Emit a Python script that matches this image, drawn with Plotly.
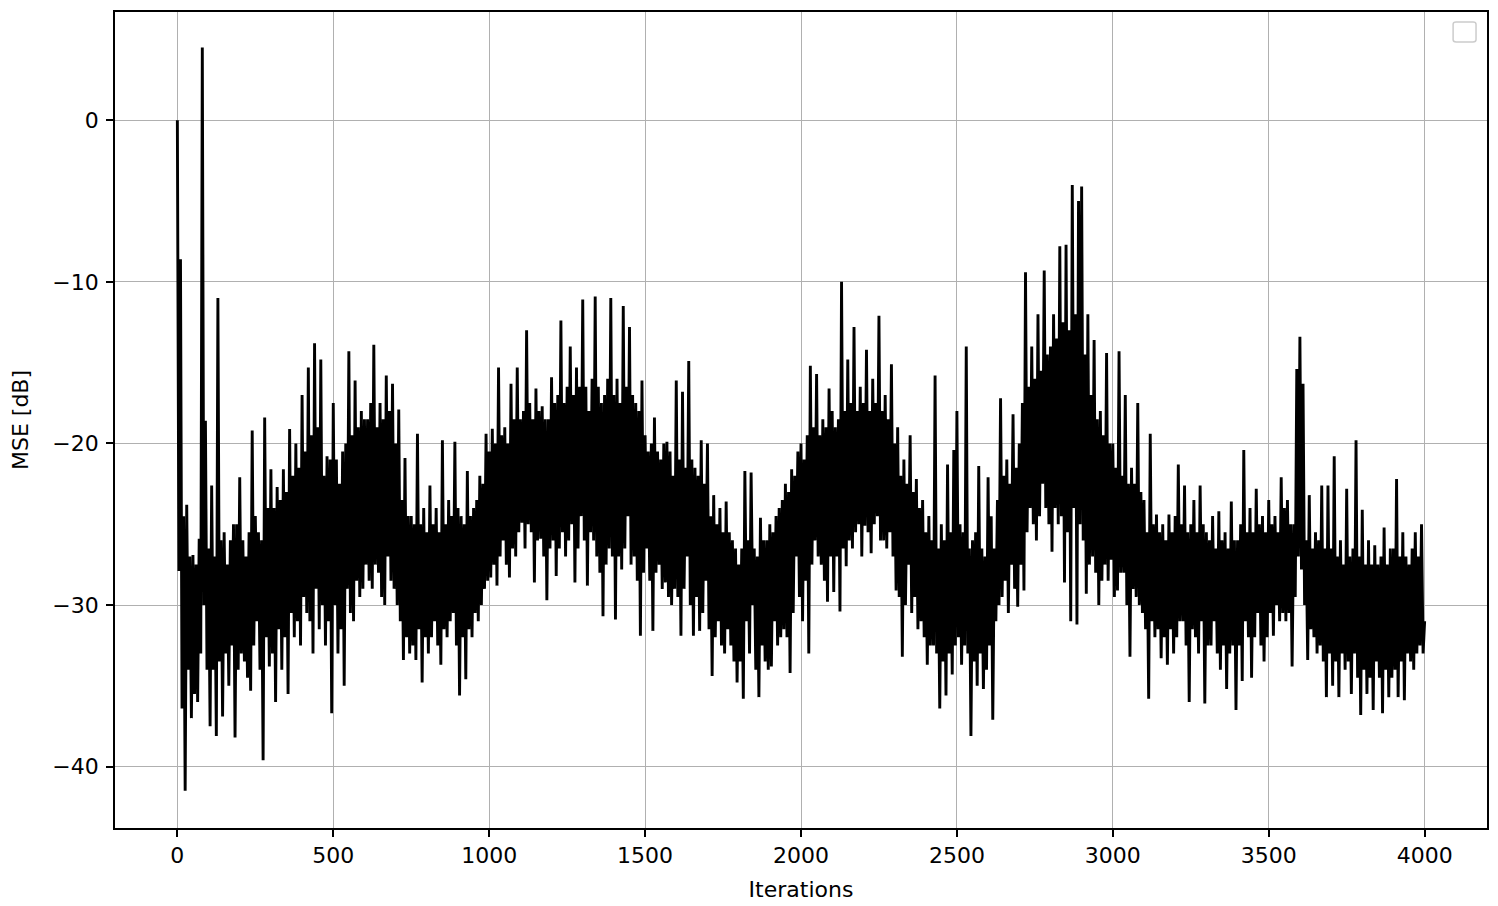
import plotly.graph_objects as go

# MSE learning curve, values every 5 iterations
step = 5
mse_db = [
    # 0 - 395
    0.0, -27.9, -8.6, -36.4, -24.5, -41.5, -23.8, -34.0, -27.0, -37.0,
    -26.9, -35.5, -27.5, -36.0, -25.9, -33.0, 4.5, -30.0, -18.6, -34.0,
    -26.5, -37.5, -22.6, -34.0, -27.0, -38.1, -11.0, -33.5, -26.0, -36.9,
    -25.5, -33.0, -27.5, -35.0, -26.0, -32.5, -25.0, -38.2, -25.0, -34.0,
    -22.1, -33.0, -26.0, -33.5, -27.0, -34.5, -25.5, -35.3, -19.2, -32.5,
    -24.5, -31.0, -25.5, -34.0, -26.0, -39.6, -18.4, -32.0, -24.0, -33.8,
    -21.6, -33.0, -24.0, -36.0, -22.7, -31.5, -23.5, -34.0, -21.6, -32.0,
    -23.0, -35.5, -19.1, -30.5, -22.0, -32.0, -20.0, -31.0, -21.5, -32.5,
    # 400 - 795
    -17.0, -29.5, -20.5, -30.5, -15.3, -31.0, -19.5, -33.0, -13.8, -29.0,
    -19.0, -31.5, -14.8, -30.0, -22.0, -32.5, -20.8, -31.0, -21.0, -36.7,
    -17.5, -30.0, -21.0, -33.0, -22.5, -31.5, -20.5, -35.0, -20.0, -29.0,
    -14.3, -30.5, -19.5, -31.0, -16.1, -28.5, -19.0, -29.5, -18.0, -29.0,
    -18.5, -27.5, -18.5, -28.5, -17.5, -29.0, -13.9, -27.5, -19.0, -28.0,
    -17.5, -29.5, -18.5, -30.0, -15.8, -27.0, -18.0, -28.5, -16.3, -29.0,
    -20.0, -30.0, -17.9, -31.0, -23.5, -33.4, -20.9, -32.0, -24.5, -33.0,
    -24.5, -32.5, -25.0, -33.4, -19.4, -31.5, -25.0, -34.8, -24.0, -32.0,
    # 800 - 1195
    -25.5, -33.0, -22.6, -32.0, -25.0, -31.0, -24.0, -32.5, -25.5, -33.7,
    -19.8, -31.5, -25.0, -32.0, -23.5, -31.0, -24.5, -30.5, -19.9, -32.5,
    -24.0, -35.6, -24.5, -32.0, -25.0, -34.6, -21.7, -31.5, -24.5, -32.0,
    -24.0, -30.5, -23.5, -31.0, -22.0, -30.0, -22.5, -29.0, -19.4, -28.5,
    -20.5, -28.3, -19.1, -27.5, -20.0, -28.8, -15.3, -27.0, -19.5, -26.0,
    -19.0, -27.5, -20.0, -28.3, -16.3, -26.5, -18.5, -27.0, -15.3, -25.5,
    -18.5, -24.9, -18.0, -26.5, -13.0, -25.0, -17.5, -25.5, -18.5, -28.6,
    -16.6, -26.0, -18.0, -25.9, -17.7, -27.0, -18.5, -29.7, -18.5, -26.5,
    # 1200 - 1595
    -15.9, -26.0, -17.5, -28.2, -17.0, -26.5, -12.4, -25.5, -17.5, -27.0,
    -16.5, -26.0, -14.0, -25.0, -17.0, -28.6, -15.3, -26.5, -16.5, -24.5,
    -11.1, -26.0, -16.5, -28.8, -18.0, -25.5, -16.0, -26.0, -10.9, -27.0,
    -16.5, -28.0, -17.5, -30.7, -17.0, -27.5, -16.0, -26.5, -11.0, -27.0,
    -17.0, -30.9, -16.0, -27.0, -17.5, -27.8, -11.5, -26.5, -16.5, -24.5,
    -12.8, -27.5, -17.0, -27.0, -17.5, -28.5, -18.0, -31.9, -16.1, -28.0,
    -19.5, -26.5, -20.5, -28.5, -20.0, -31.6, -18.4, -28.0, -20.5, -27.5,
    -21.0, -29.0, -20.0, -28.6, -19.9, -29.5, -20.5, -30.0, -22.0, -29.0,
    # 1600 - 1995
    -16.1, -29.5, -21.0, -31.9, -16.8, -29.0, -21.5, -27.0, -14.9, -30.0,
    -21.0, -31.9, -21.5, -29.5, -22.0, -31.6, -19.8, -30.5, -22.5, -28.5,
    -20.0, -31.5, -24.5, -34.4, -23.2, -32.0, -25.0, -31.0, -24.0, -32.5,
    -25.5, -33.0, -23.6, -31.5, -25.5, -32.5, -26.0, -33.5, -26.5, -34.8,
    -27.5, -33.5, -26.5, -35.8, -21.7, -31.0, -26.0, -33.0, -21.8, -30.0,
    -26.5, -34.0, -27.0, -35.7, -24.6, -32.5, -26.0, -33.5, -26.0, -34.0,
    -25.0, -33.8, -25.5, -31.0, -24.5, -32.5, -24.0, -32.0, -23.5, -31.5,
    -22.5, -32.0, -23.0, -34.2, -21.6, -30.5, -22.0, -27.0, -20.5, -29.5,
    # 2000 - 2395
    -20.0, -31.0, -21.0, -28.5, -19.5, -33.0, -15.2, -27.5, -19.0, -26.0,
    -15.7, -27.0, -19.5, -27.5, -18.5, -28.5, -19.0, -29.8, -16.6, -27.0,
    -18.0, -29.2, -19.0, -27.0, -18.5, -30.4, -10.0, -26.5, -18.0, -27.6,
    -14.8, -26.0, -17.5, -26.5, -12.8, -25.5, -18.0, -25.0, -16.5, -27.0,
    -17.5, -25.1, -14.2, -25.5, -18.0, -26.8, -16.0, -25.0, -17.5, -24.5,
    -12.1, -26.0, -18.0, -26.0, -17.0, -26.5, -18.5, -25.5, -15.1, -27.0,
    -20.0, -29.1, -19.0, -29.5, -22.0, -33.2, -21.0, -30.0, -22.5, -27.5,
    -19.5, -30.5, -23.0, -29.5, -22.2, -31.5, -24.0, -31.0, -23.5, -32.0,
    # 2400 - 2795
    -25.5, -33.7, -24.5, -32.5, -26.0, -32.5, -15.8, -33.0, -26.5, -36.4,
    -25.0, -33.5, -26.0, -35.6, -21.3, -33.0, -25.5, -34.3, -20.4, -32.5,
    -18.0, -32.0, -25.0, -33.7, -25.5, -32.5, -14.0, -33.0, -26.5, -38.1,
    -26.0, -33.5, -25.5, -35.0, -21.4, -33.0, -26.5, -35.2, -27.0, -34.0,
    -22.1, -32.5, -24.5, -37.1, -26.5, -31.0, -23.5, -30.0, -17.2, -29.5,
    -22.0, -28.5, -21.0, -30.5, -22.5, -27.5, -18.2, -29.0, -21.5, -30.1,
    -20.0, -27.5, -17.5, -29.1, -9.4, -25.5, -16.5, -24.0, -14.0, -25.0,
    -16.0, -26.0, -12.0, -24.5, -15.5, -22.5, -9.3, -24.0, -14.5, -25.0,
    # 2800 - 3195
    -14.0, -26.7, -12.0, -24.0, -13.5, -25.0, -7.8, -24.5, -12.5, -28.6,
    -7.7, -25.5, -13.0, -31.0, -4.0, -24.0, -12.0, -31.2, -5.0, -25.0,
    -4.1, -26.0, -14.5, -29.3, -12.0, -27.5, -17.0, -27.0, -13.6, -28.0,
    -18.5, -30.0, -18.0, -28.5, -19.5, -27.5, -14.4, -28.5, -20.0, -27.2,
    -20.0, -29.5, -21.5, -29.1, -14.3, -28.0, -22.0, -28.0, -17.0, -30.0,
    -22.5, -33.2, -21.5, -29.0, -22.5, -29.5, -17.5, -30.0, -23.0, -30.5,
    -23.5, -31.5, -25.5, -35.8, -19.4, -31.0, -25.0, -32.0, -24.4, -31.5,
    -25.5, -33.3, -25.0, -32.0, -26.0, -33.7, -24.4, -31.5, -25.5, -33.0,
    # 3200 - 3595
    -24.5, -32.0, -21.3, -31.0, -25.0, -31.0, -22.6, -32.5, -25.5, -36.0,
    -25.0, -31.5, -23.5, -32.0, -25.5, -33.0, -22.6, -31.0, -25.0, -36.1,
    -25.5, -32.5, -26.0, -32.5, -24.5, -31.0, -26.5, -33.0, -24.2, -34.0,
    -26.0, -32.5, -25.5, -35.2, -26.5, -33.0, -23.6, -32.5, -26.0, -36.5,
    -26.0, -32.5, -25.0, -34.7, -20.4, -31.0, -25.5, -32.0, -24.0, -34.5,
    -25.5, -32.0, -22.8, -30.5, -25.0, -32.5, -24.5, -33.5, -25.5, -32.0,
    -23.5, -30.5, -25.0, -31.9, -24.5, -30.0, -25.5, -31.0, -22.1, -30.5,
    -24.0, -31.0, -23.5, -30.5, -25.0, -33.8, -25.0, -29.5, -15.4, -27.0,
    # 3600 - 4000
    -13.4, -27.8, -16.3, -30.0, -26.0, -33.4, -23.2, -31.5, -26.5, -32.0,
    -25.5, -33.0, -26.0, -32.5, -22.6, -33.5, -26.5, -35.7, -22.6, -33.0,
    -26.5, -35.0, -20.8, -33.5, -27.0, -35.7, -26.0, -33.0, -27.5, -34.0,
    -22.8, -33.5, -27.0, -35.5, -26.5, -33.0, -19.8, -34.5, -27.0, -36.8,
    -24.1, -34.0, -27.5, -35.5, -26.0, -34.5, -27.5, -36.5, -26.3, -33.5,
    -27.5, -34.5, -27.0, -36.7, -25.2, -34.0, -27.5, -35.7, -26.5, -34.5,
    -26.5, -34.0, -22.2, -35.7, -27.0, -33.5, -25.5, -35.9, -27.0, -33.0,
    -27.5, -33.5, -26.5, -34.0, -25.5, -33.0, -27.0, -32.5, -25.0, -33.0,
    -31.0,
]
iterations = [i * step for i in range(len(mse_db))]

x_ticks = [0, 500, 1000, 1500, 2000, 2500, 3000, 3500, 4000]
y_ticks = [-40, -30, -20, -10, 0]

fig = go.Figure()
fig.add_trace(go.Scatter(
    x=iterations,
    y=mse_db,
    mode="lines",
    line=dict(color="black", width=2.9),
    showlegend=False,
))

axis_style = dict(
    showline=True,
    linecolor="black",
    linewidth=1.6,
    mirror=True,
    showgrid=True,
    gridcolor="#b0b0b0",
    gridwidth=1.4,
    zeroline=False,
    ticks="outside",
    ticklen=7,
    tickwidth=1.6,
    tickcolor="black",
    tickfont=dict(family="DejaVu Sans", size=22, color="black"),
)

fig.update_xaxes(
    range=[-200, 4200],
    tickvals=x_ticks,
    title=dict(text="Iterations", font=dict(family="DejaVu Sans", size=22, color="black"), standoff=14),
    **axis_style,
)
fig.update_yaxes(
    range=[-43.8, 6.7],
    tickvals=y_ticks,
    ticklabelstandoff=3,
    title=dict(text="MSE [dB]", font=dict(family="DejaVu Sans", size=22, color="black"), standoff=22),
    **axis_style,
)

# empty legend frame, top right (rounded corners like matplotlib's)
fig.add_shape(
    type="path", xref="paper", yref="paper",
    path=("M 0.9775,0.9877 L 0.9898,0.9877 Q 0.9920,0.9877 0.9920,0.9850 "
          "L 0.9920,0.9660 Q 0.9920,0.9633 0.9898,0.9633 L 0.9775,0.9633 "
          "Q 0.9753,0.9633 0.9753,0.9660 L 0.9753,0.9850 Q 0.9753,0.9877 0.9775,0.9877 Z"),
    line=dict(color="#cccccc", width=1.5),
    fillcolor="white",
)

# page body adds an 8px offset, so the figure is 8px smaller on each side
fig.update_layout(
    width=1490,
    height=898,
    paper_bgcolor="white",
    plot_bgcolor="white",
    margin=dict(l=107, r=11, t=2, b=78),
    font=dict(family="DejaVu Sans", size=22, color="black"),
)

fig.write_html("out.html")
